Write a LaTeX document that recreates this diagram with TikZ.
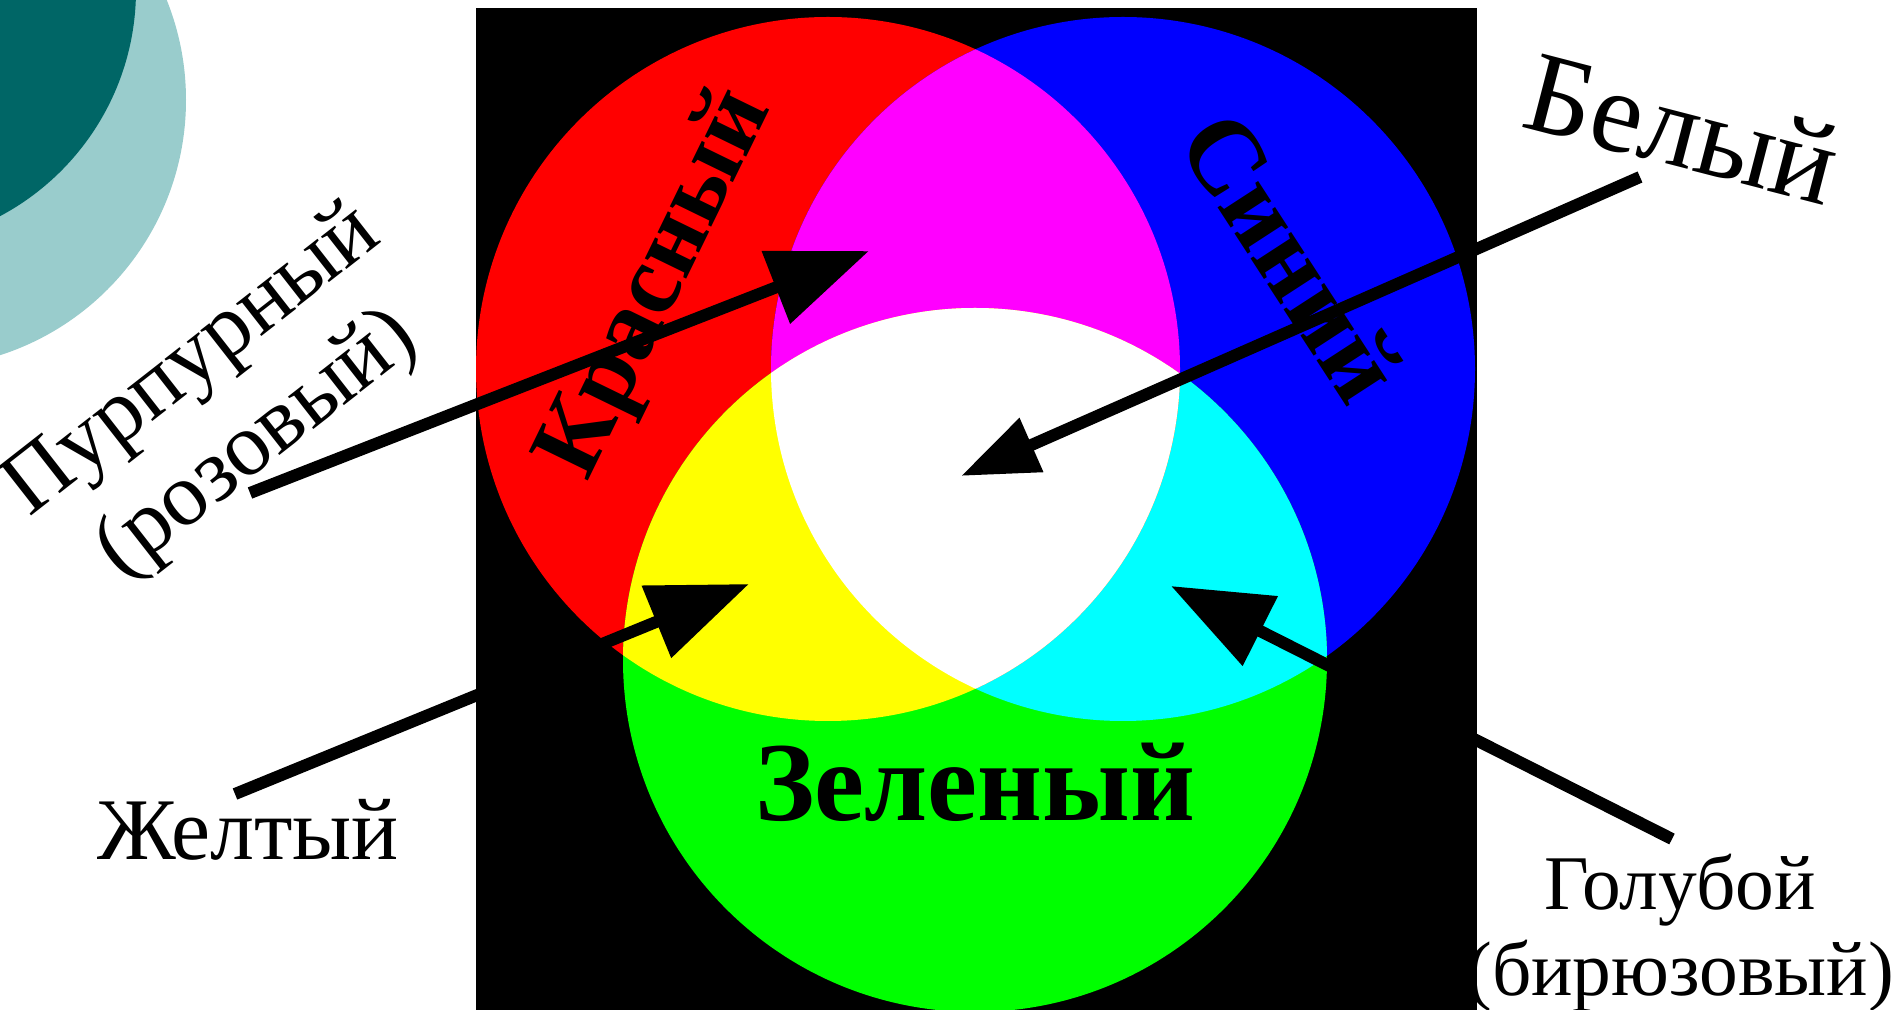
\documentclass[tikz,border=0pt]{standalone}
\usepackage{fontspec}
\setmainfont{Liberation Serif}
\usepackage{xcolor}
\definecolor{tealdark}{RGB}{0,102,102}
\definecolor{teallight}{RGB}{153,204,204}
\definecolor{lred}{RGB}{255,0,0}
\definecolor{lgreen}{RGB}{0,255,0}
\definecolor{lblue}{RGB}{0,0,255}
\definecolor{lmagenta}{RGB}{255,0,255}
\definecolor{lyellow}{RGB}{255,255,0}
\definecolor{lcyan}{RGB}{0,255,255}
\usetikzlibrary{arrows.meta}

\begin{document}
\begin{tikzpicture}[
  x=0.01cm, y=-0.01cm,
  lbl/.style={inner sep=0pt, align=center},
  cname/.style={inner sep=0pt, anchor=base, font=\bfseries\fontsize{28.5}{32}\selectfont},
  pointer/.style={-{Triangle[length=1cm, width=0.75cm]}, line width=0.12cm}]

  \useasboundingbox (0,0) rectangle (1893,1010);
  \clip (0,0) rectangle (1893,1010);
  \fill[white] (0,0) rectangle (1893,1010);

  % --- corner decoration ---
  \fill[teallight] (-82,100) circle (268);
  \fill[tealdark] (-120,-10) circle (256);

  % --- black screen ---
  \fill[black] (476,8) rectangle (1477,1010);

  % --- three light spots ---
  \coordinate (rc) at (828,369);
  \coordinate (bc) at (1123,369);
  \coordinate (gc) at (975,660);
  \fill[lred]   (rc) circle (352);
  \fill[lblue]  (bc) circle (352);
  \fill[lgreen] (gc) circle (352);
  \begin{scope}
    \clip (bc) circle (352);
    \fill[lcyan] (gc) circle (352);
  \end{scope}
  \begin{scope}
    \clip (rc) circle (352);
    \fill[lmagenta] (bc) circle (352);
    \fill[lyellow]  (gc) circle (352);
    \clip (bc) circle (352);
    \fill[white] (gc) circle (352);
  \end{scope}

  % --- names inside the spots ---
  \node[cname, rotate=64]  (red)   at (679,295) {Красный};
  \node[cname, rotate=-57, font=\bfseries\fontsize{30}{34}\selectfont] (blue) at (1262,276) {Синий};
  \node[cname, font=\bfseries\fontsize{32}{36}\selectfont] (green) at (975,821) {Зеленый};

  % --- mixture labels ---
  \node[lbl, rotate=38, font=\fontsize{25.5}{30}\selectfont] (mag) at (226,404) {Пурпурный\\(розовый)};
  \node[lbl, anchor=base, rotate=-14.5, font=\fontsize{33}{38}\selectfont] (wht) at (1673,166) {Белый};
  \node[lbl, anchor=base, font=\fontsize{25}{29}\selectfont] (yel) at (248,860) {Желтый};
  \node[lbl, font=\fontsize{22}{24.5}\selectfont] (cyn) at (1680,933) {Голубой\\(бирюзовый)};

  % --- arrows ---
  \coordinate (magtail) at (250,493);
  \coordinate (magtip)  at (869,251);
  \coordinate (whttail) at (1640,177);
  \coordinate (whttip)  at (961,476);
  \coordinate (yeltail) at (235,794);
  \coordinate (yeltip)  at (749,584);
  \coordinate (cyntail) at (1672,839);
  \coordinate (cyntip)  at (1171,586);
  \draw[pointer] (magtail) -- (magtip);
  \draw[pointer, -{Triangle[length=0.77cm, width=0.56cm]}] (whttail) -- (whttip);
  \draw[pointer] (yeltail) -- (yeltip);
  \draw[pointer] (cyntail) -- (cyntip);
\end{tikzpicture}
\end{document}
